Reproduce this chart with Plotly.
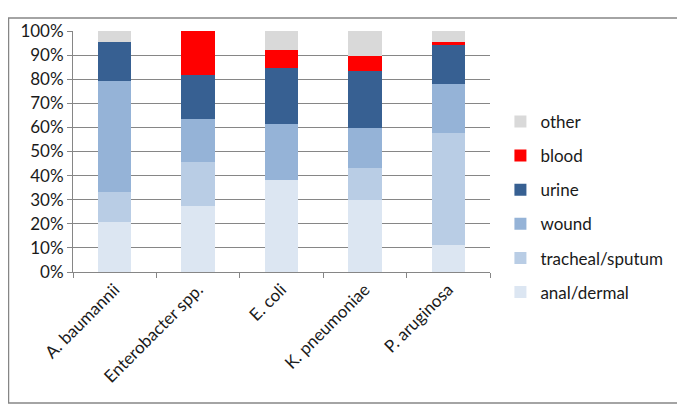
import plotly.graph_objects as go

categories = ["A. baumannii", "Enterobacter spp.", "E. coli", "K. pneumoniae", "P. aruginosa"]
anal_dermal = [20.8, 27.2, 38.1, 29.9, 11.2]
tracheal_sputum = [12.3, 18.3, 0.0, 13.4, 46.5]
wound = [46.1, 18.0, 23.4, 16.6, 20.4]
urine = [16.4, 18.1, 23.2, 23.3, 16.0]
blood = [0.0, 18.4, 7.6, 6.5, 1.5]
other = [4.4, 0.0, 7.7, 10.3, 4.4]

series = [
    ("anal/dermal", anal_dermal, "#DCE6F2"),
    ("tracheal/sputum", tracheal_sputum, "#B9CDE5"),
    ("wound", wound, "#95B3D7"),
    ("urine", urine, "#376092"),
    ("blood", blood, "#FF0000"),
    ("other", other, "#D9D9D9"),
]

fig = go.Figure()
n = len(series)
for i, (name, vals, color) in enumerate(series):
    fig.add_trace(go.Bar(
        x=categories, y=[v / 100 for v in vals], name=name,
        marker=dict(color=color, line=dict(width=0)),
        legendgroup=name, legendrank=n - i,
    ))

# page has an 8px body margin: figure is sized/offset to compensate
W, H = 677, 404
L, T = 65, 14
PW, PH = 417, 250
font = "Lato, Open Sans, sans-serif"
fig.update_layout(
    barmode="stack",
    bargap=0.6,
    width=W, height=H,
    margin=dict(l=L, r=W - L - PW, t=T, b=H - T - PH),
    paper_bgcolor="white", plot_bgcolor="white",
    font=dict(family=font, size=17, color="#1a1a1a"),
    showlegend=True,
    legend=dict(
        traceorder="grouped",
        tracegroupgap=9,
        x=1.025, xanchor="left", y=0.27, yanchor="middle",
        font=dict(size=17, color="#1a1a1a"),
        itemwidth=30,
    ),
    xaxis=dict(
        tickangle=-45, showline=True, linecolor="#868686", linewidth=1,
        ticks="outside", ticklen=5, tickcolor="#868686", tickson="boundaries",
        tickfont=dict(size=17),
    ),
    yaxis=dict(
        range=[0, 1], tickformat=".0%", dtick=0.1,
        showgrid=True, gridcolor="#868686", gridwidth=1,
        showline=True, linecolor="#868686", linewidth=1,
        ticks="outside", ticklen=5, tickcolor="#868686",
        tickfont=dict(size=17), zeroline=False,
    ),
    shapes=[dict(
        type="rect", xref="paper", yref="paper",
        x0=(0.5 - L) / PW, x1=(W - 2 - L) / PW,
        y0=-(H - 4 - T - PH) / PH, y1=1 + (T - 0.5) / PH,
        line=dict(color="#868686", width=1.5), fillcolor="rgba(0,0,0,0)",
        layer="below",
    )],
)

fig.write_html("out.html")
